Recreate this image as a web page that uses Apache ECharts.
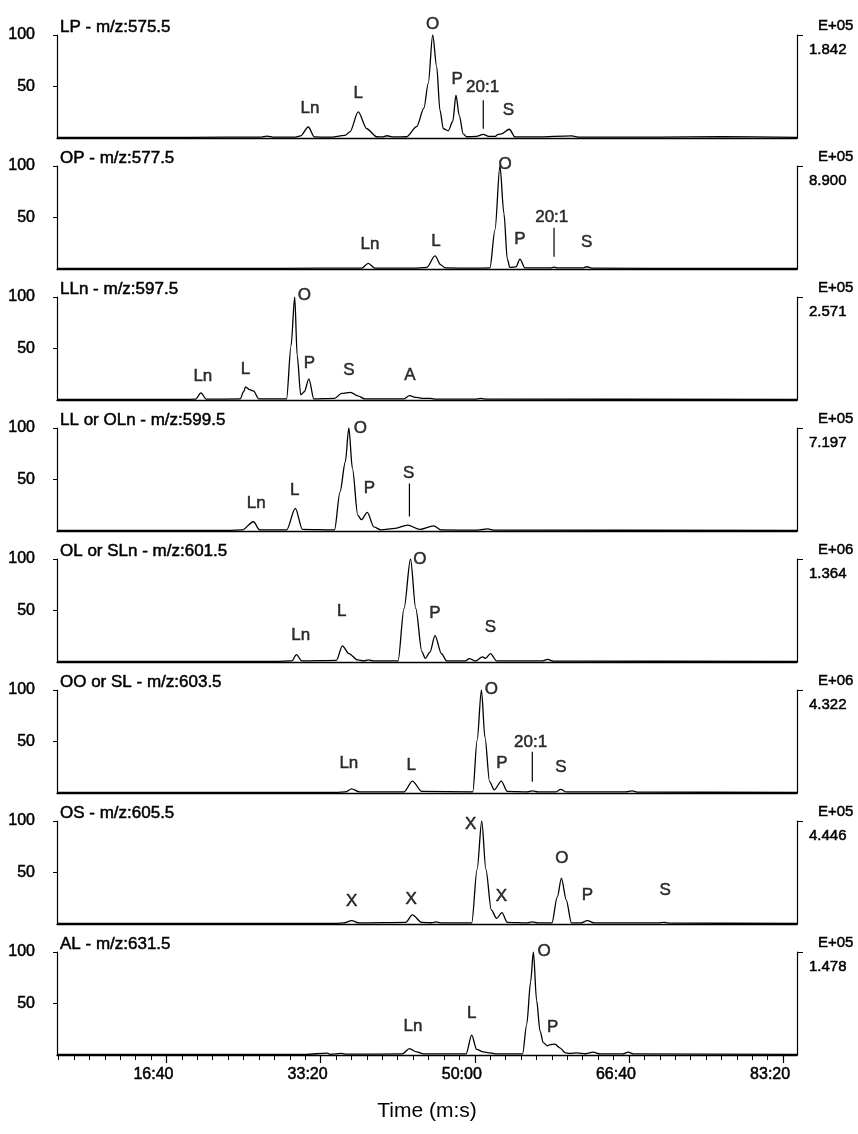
<!DOCTYPE html>
<html>
<head>
<meta charset="utf-8">
<script src="https://cdn.jsdelivr.net/npm/echarts@6/dist/echarts.min.js"></script>
<style>
  html, body { margin: 0; padding: 0; background: #fff; }
  #chart { width: 858px; height: 1134px; }
</style>
</head>
<body>
<div id="chart"></div>
<script>
// Extracted ion chromatograms, relative abundance (%) vs retention time (s)

const panelTitles = [
  'LP - m/z:575.5',
  'OP - m/z:577.5',
  'LLn - m/z:597.5',
  'LL or OLn - m/z:599.5',
  'OL or SLn - m/z:601.5',
  'OO or SL - m/z:603.5',
  'OS - m/z:605.5',
  'AL - m/z:631.5'
];

// Full-scale intensity for each trace (mantissa + exponent)
const scaleMantissa = ['1.842', '8.900', '2.571', '7.197', '1.364', '4.322', '4.446', '1.478'];
const scaleExponent = ['E+05', 'E+05', 'E+05', 'E+05', 'E+06', 'E+06', 'E+05', 'E+05'];

// Time axis labels (seconds, printed as m:s)
const timeTicks = [1000, 2000, 3000, 4000, 5000];
const timeMin = 290;
const timeMax = 5090;

// Traces: [time (s), relative abundance (%)]
const traceLP = [
  [290, 0.5], [900, 0.6], [1400, 0.8], [1610, 0.8], [1652, 1.8], [1700, 0.8], [1830, 0.8],
  [1870, 2], [1920, 10.7], [1960, 1], [2060, 0.8], [2158, 2.5], [2190, 6], [2244, 25.3],
  [2299, 9], [2364, 1.2], [2400, 1], [2430, 2.2], [2470, 1], [2558, 1.2], [2623, 11],
  [2670, 29], [2698, 53], [2727, 100], [2753, 69], [2774, 27], [2796, 9], [2828, 7],
  [2857, 16], [2878, 41.5], [2899, 22], [2925, 4], [2947, 1.2], [3010, 1.5], [3055, 3.5],
  [3090, 1.5], [3130, 1.5], [3152, 3.5], [3174, 4], [3224, 8.5], [3261, 1], [3400, 1],
  [3628, 2], [3680, 0.8], [4200, 0.8], [4600, 1.2], [5090, 0.6]
];
const traceOP = [
  [290, 0.5], [1500, 0.6], [2000, 0.8], [2266, 0.8], [2309, 5.4], [2353, 0.8], [2600, 0.8],
  [2688, 1.5], [2742, 12.7], [2780, 4], [2807, 1], [3000, 0.8], [3098, 1], [3131, 38],
  [3163, 100], [3189, 54], [3211, 9.5], [3228, 1.5], [3267, 2], [3293, 9.5], [3325, 1],
  [3490, 1], [3514, 1.8], [3540, 1], [3700, 1], [3726, 2.2], [3760, 0.8], [4500, 0.6], [5090, 0.6]
];
const traceLLn = [
  [290, 0.5], [1100, 0.6], [1189, 0.8], [1224, 6.9], [1258, 0.8], [1478, 1], [1500, 8],
  [1513, 12.7], [1540, 10], [1564, 8.8], [1600, 1], [1779, 1], [1808, 52.6], [1832, 100],
  [1848, 43], [1871, 5], [1894, 8], [1924, 20.6], [1956, 1], [2090, 1.5], [2137, 6.5],
  [2194, 7.5], [2241, 4], [2287, 1], [2541, 1], [2576, 4.2], [2620, 2.5], [2668, 1.5],
  [2714, 1.5], [2750, 0.8], [3000, 0.8], [3038, 1.5], [3080, 0.8], [5090, 0.6]
];
const traceLLorOLn = [
  [290, 0.5], [1400, 0.6], [1490, 1], [1564, 9], [1605, 1], [1779, 1], [1836, 22],
  [1882, 1.5], [2090, 1], [2126, 38], [2160, 67], [2183, 100], [2206, 61], [2241, 15.5],
  [2264, 11], [2303, 18], [2345, 4], [2391, 1], [2484, 2.5], [2564, 5.8], [2644, 1.5],
  [2733, 5], [2784, 1], [3000, 0.8], [3084, 2], [3130, 0.8], [5090, 0.6]
];
const traceOLorSLn = [
  [290, 0.5], [1700, 0.6], [1813, 1], [1843, 7.2], [1878, 1], [2102, 1.5], [2141, 15.7],
  [2183, 8.2], [2240, 2], [2280, 1], [2310, 2], [2340, 1], [2502, 1], [2541, 52],
  [2583, 100], [2617, 52], [2657, 10], [2679, 3.5], [2709, 9.5], [2742, 25.6], [2784, 8],
  [2818, 1], [2940, 1], [2964, 3.3], [3003, 1], [3050, 5], [3070, 3.5], [3102, 8.2],
  [3142, 1], [3440, 1], [3473, 2.5], [3510, 0.8], [5090, 0.6]
];
const traceOOorSL = [
  [290, 0.5], [2100, 0.6], [2160, 1], [2201, 4], [2252, 1], [2541, 1], [2595, 11.6],
  [2657, 1.5], [2987, 1], [3015, 51], [3043, 100], [3066, 54], [3096, 11], [3126, 3],
  [3172, 11.6], [3211, 1.5], [3340, 1], [3373, 2], [3410, 1], [3523, 1], [3558, 3.5],
  [3593, 1], [3980, 1], [4020, 2], [4060, 0.8], [5090, 0.6]
];
const traceOS = [
  [290, 0.5], [2100, 0.6], [2148, 1], [2201, 3.2], [2252, 1], [2552, 1.5], [2595, 8.8],
  [2657, 1.5], [2720, 1.2], [2749, 2], [2780, 1], [2980, 1], [3015, 53], [3045, 100],
  [3072, 53], [3107, 13.7], [3142, 5.5], [3176, 11], [3211, 1.5], [3340, 1], [3373, 2],
  [3410, 1], [3500, 1], [3535, 26], [3562, 44.6], [3593, 23.5], [3627, 1], [3685, 1],
  [3731, 3.2], [3777, 1], [4190, 1], [4228, 1.5], [4270, 0.8], [5090, 0.6]
];
const traceAL = [
  [290, 0.5], [1900, 0.6], [2044, 1.8], [2060, 0.6], [2135, 1.5], [2170, 0.8], [2530, 1],
  [2576, 6.2], [2622, 3], [2668, 1], [2943, 1], [2980, 19.3], [3012, 5.5], [3055, 3],
  [3098, 2], [3142, 1], [3310, 1], [3337, 30], [3362, 71], [3380, 100], [3401, 53],
  [3423, 23.5], [3444, 12], [3470, 9], [3488, 10], [3520, 10.5], [3552, 7], [3585, 2.3],
  [3617, 1.5], [3661, 2], [3720, 1.2], [3768, 2.7], [3812, 1], [3960, 1], [3995, 2.7],
  [4030, 1], [5090, 0.6]
];

// Peak assignments: [time (s), height (%), label]
const peaksLP = [[1931, 29, 'Ln'], [2244, 43, 'L'], [2727, 110, 'O'], [2886, 57, 'P'], [3051, 49, '20:1'], [3218, 27, 'S']];
const peaksOP = [[2320, 24, 'Ln'], [2748, 27, 'L'], [3196, 102, 'O'], [3293, 28.6, 'P'], [3499, 50, '20:1'], [3726, 25.7, 'S']];
const peaksLLn = [[1236, 23, 'Ln'], [1513, 29.7, 'L'], [1894, 101.7, 'O'], [1928, 36, 'P'], [2183, 29, 'S'], [2580, 23.8, 'A']];
const peaksLLorOLn = [[1582, 26.8, 'Ln'], [1832, 39.8, 'L'], [2257, 100, 'O'], [2317, 41, 'P'], [2571, 56, 'S']];
const peaksOLorSLn = [[1871, 26, 'Ln'], [2137, 49, 'L'], [2644, 100, 'O'], [2742, 47.6, 'P'], [3102, 34, 'S']];
const peaksOOorSL = [[2183, 29, 'Ln'], [2587, 27, 'L'], [3107, 101, 'O'], [3176, 28.5, 'P'], [3362, 49.5, '20:1'], [3558, 25, 'S']];
const peaksOS = [[2201, 21.8, 'X'], [2587, 23.5, 'X'], [2973, 96.5, 'X'], [3172, 26.7, 'X'], [3565, 64, 'O'], [3731, 28.3, 'P'], [4235, 33, 'S']];
const peaksAL = [[2599, 28, 'Ln'], [2980, 40, 'L'], [3449, 101, 'O'], [3505, 27, 'P']];

// Pointer strokes under some labels: [time (s), from %, to %]
const pointersLP = [[3055, 9, 36.7]];
const pointersOP = [[3514, 12, 40]];
const pointersLLorOLn = [[2576, 14, 46]];
const pointersOOorSL = [[3373, 11, 40]];

const traces = [traceLP, traceOP, traceLLn, traceLLorOLn, traceOLorSLn, traceOOorSL, traceOS, traceAL];
const peaks = [peaksLP, peaksOP, peaksLLn, peaksLLorOLn, peaksOLorSLn, peaksOOorSL, peaksOS, peaksAL];
const pointers = [pointersLP, pointersOP, [], pointersLLorOLn, [], pointersOOorSL, [], []];

// ---- layout & style ----
const FONT = "'Liberation Sans', Arial, sans-serif";
const INK = '#000000';
const PANEL_TOP = 35, PANEL_STEP = 131, PANEL_H = 103;
const GRID_LEFT = 57, GRID_RIGHT = 61;
// a hairline outline gives the printed-plot weight to the lettering
const HEAVY = { color: INK, fontFamily: FONT, textBorderColor: INK, textBorderWidth: 0.5 };

function mmss(v) {
  const m = Math.floor(v / 60), s = Math.round(v % 60);
  return m + ':' + (s < 10 ? '0' : '') + s;
}

const minorTicks = [];
for (let t = 300; t <= 5000; t += 100) minorTicks.push(t);

const grids = [], xAxes = [], yAxes = [], series = [], titles = [];
const n = traces.length;

for (let i = 0; i < n; i++) {
  const last = i === n - 1;
  grids.push({ left: GRID_LEFT, right: GRID_RIGHT, top: PANEL_TOP + PANEL_STEP * i, height: PANEL_H });

  xAxes.push({
    gridIndex: i, type: 'value', min: timeMin, max: timeMax,
    axisLine: { show: true, onZero: false, lineStyle: { color: INK, width: 1.4 } },
    axisTick: last ? { show: true, customValues: minorTicks, length: 5, lineStyle: { color: INK, width: 1 } } : { show: false },
    axisLabel: { show: false },
    splitLine: { show: false }
  });

  yAxes.push({
    gridIndex: i, type: 'value', min: 0, max: 100, position: 'left',
    axisLine: { show: true, onZero: false, lineStyle: { color: INK, width: 1.2 } },
    axisTick: { show: true, customValues: [50, 100], length: 4, lineStyle: { color: INK, width: 1 } },
    axisLabel: Object.assign({ show: true, customValues: [50, 100], margin: 22, fontSize: 16 }, HEAVY),
    splitLine: { show: false }
  });
  yAxes.push({
    gridIndex: i, type: 'value', min: 0, max: 100, position: 'right',
    axisLine: { show: true, onZero: false, lineStyle: { color: INK, width: 1.2 } },
    axisTick: { show: true, customValues: [100], length: 6, lineStyle: { color: INK, width: 1 } },
    axisLabel: Object.assign({
      show: true, customValues: [100], margin: 12, fontSize: 15,
      verticalAlign: 'top', padding: [7, 0, 0, 0],
      formatter: () => scaleMantissa[i]
    }, HEAVY),
    name: scaleExponent[i], nameLocation: 'end', nameGap: 2,
    nameTextStyle: Object.assign({ fontSize: 15, align: 'left', padding: [0, 0, 0, 21] }, HEAVY),
    splitLine: { show: false }
  });

  titles.push({
    text: panelTitles[i], left: 60, top: 19 + PANEL_STEP * i, padding: 0,
    textStyle: Object.assign({ fontSize: 17, fontWeight: 'normal' }, HEAVY)
  });

  series.push({
    type: 'line', xAxisIndex: i, yAxisIndex: 2 * i, data: traces[i],
    symbol: 'none', smooth: 0.3, smoothMonotone: 'x',
    lineStyle: { color: INK, width: 1.3 }, silent: true, animation: false
  });

  series.push({
    type: 'scatter', xAxisIndex: i, yAxisIndex: 2 * i, clip: false, silent: true, animation: false,
    symbolSize: 1, itemStyle: { color: 'transparent' },
    data: peaks[i].map(p => ({ name: p[2], value: [p[0], p[1]] })),
    label: Object.assign({ show: true, position: 'inside', formatter: '{b}', fontSize: 17 }, HEAVY)
  });

  pointers[i].forEach(p => {
    series.push({
      type: 'line', xAxisIndex: i, yAxisIndex: 2 * i, silent: true, animation: false,
      data: [[p[0], p[1]], [p[0], p[2]]], symbol: 'none',
      lineStyle: { color: INK, width: 1.2 }
    });
  });
}

// Labelled time axis under the bottom panel
xAxes.push({
  gridIndex: n - 1, type: 'value', min: timeMin, max: timeMax, position: 'bottom', offset: 0,
  axisLine: { show: false },
  axisTick: { show: true, customValues: timeTicks, length: 8, lineStyle: { color: INK, width: 1.2 } },
  axisLabel: Object.assign({
    show: true, customValues: timeTicks, formatter: v => mmss(v), margin: 12,
    fontSize: 16, padding: [0, 26, 0, 0]
  }, HEAVY),
  splitLine: { show: false },
  name: 'Time (m:s)', nameLocation: 'middle', nameGap: 46,
  nameTextStyle: { fontSize: 21, color: INK, fontFamily: FONT }
});

const chart = echarts.init(document.getElementById('chart'), null, { renderer: 'canvas' });
chart.setOption({
  backgroundColor: '#ffffff',
  animation: false,
  title: titles,
  grid: grids,
  xAxis: xAxes,
  yAxis: yAxes,
  series: series
});
</script>
</body>
</html>
